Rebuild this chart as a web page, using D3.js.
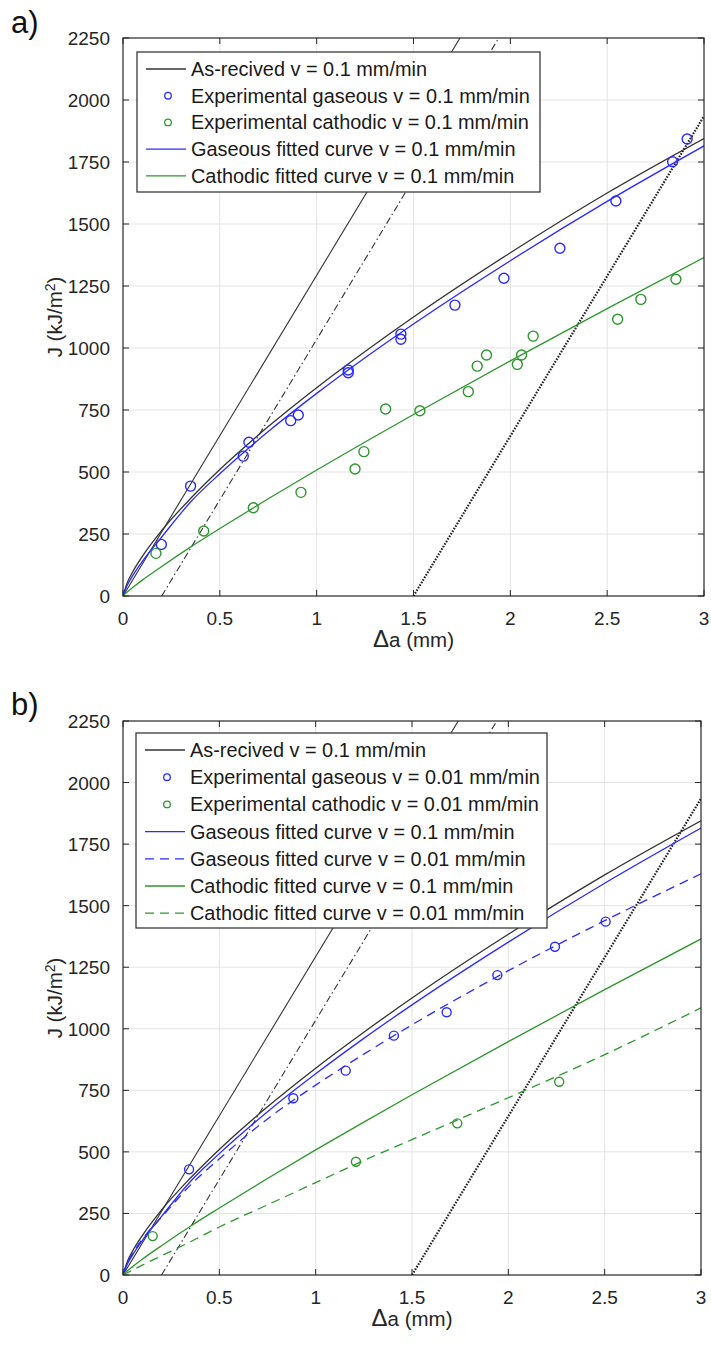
<!DOCTYPE html>
<html lang="en">
  <head>
    <meta charset='utf-8'>
    <script src='https://d3js.org/d3.v7.min.js'></script>
    <title>J-R curves</title>
    <style>
      body { margin: 0px; background: #fff; }
      text { font-family: 'Liberation Sans', Arial, sans-serif; fill: #262626; }
      .tick-label { font-size: 19px; }
      .legend-text { font-size: 19.9px; fill: #1a1a1a; }
      .axis-label { font-size: 20.5px; }
      .panel-label { font-size: 31px; fill: #111; }
    </style>
  </head>
  <body>
    <div id='chart'></div>
    <script>

      // delta a grid for the fitted curves (mm)
      const fitDa = [0, 0.02, 0.05, 0.1, 0.2, 0.35, 0.5, 0.75, 1, 1.25, 1.5, 2, 2.5, 3];
      // J (kJ/m2) at fitDa
      const asReceivedJ = [0, 50, 97, 160, 264, 394, 510, 683, 840, 986, 1125, 1384, 1625, 1845];
      const gasFit01J   = [0, 40, 82, 140, 238, 380, 493, 663, 817, 961, 1097, 1352, 1591, 1815];
      const cathFit01J  = [0, 15, 34, 64, 119, 198, 272, 392, 508, 621, 732, 948, 1159, 1365];
      const gasFit001J  = [0, 45, 88, 145, 235, 365, 472, 634, 771, 897, 1016, 1236, 1439, 1629];
      const cathFit001J = [0, 8, 20, 40, 78, 135, 195, 285, 375, 465, 550, 720, 895, 1085];

      // blunting line and its 0.2 / 1.5 mm offsets, end points
      const bluntDa = [0, 1.74];
      const bluntJ = [0, 2250];
      const offset02Da = [0.2, 1.94];
      const offset02J = [0, 2250];
      const offset15Da = [1.5, 3];
      const offset15J = [0, 1935];

      // experimental points, v = 0.1 mm/min
      const gasA_da = [0.198, 0.349, 0.621, 0.650, 0.866, 0.905, 1.163, 1.163, 1.435, 1.435, 1.714, 1.967, 2.256, 2.545, 2.838, 2.913];
      const gasA_j  = [208, 443, 564, 620, 707, 730, 911, 900, 1056, 1035, 1173, 1281, 1402, 1593, 1751, 1843];
      const cathA_da = [0.170, 0.417, 0.673, 0.919, 1.198, 1.244, 1.356, 1.533, 1.783, 1.829, 1.877, 2.036, 2.058, 2.118, 2.554, 2.674, 2.855];
      const cathA_j  = [172, 262, 356, 418, 512, 582, 754, 747, 824, 927, 972, 934, 972, 1048, 1116, 1196, 1277];

      // experimental points, v = 0.01 mm/min
      const gasB_da = [0.343, 0.884, 1.156, 1.406, 1.680, 1.943, 2.242, 2.505];
      const gasB_j  = [429, 718, 830, 972, 1067, 1218, 1333, 1435];
      const cathB_da = [0.154, 1.209, 1.735, 2.264];
      const cathB_j  = [158, 460, 616, 785];

      const xTicks = [0, 0.5, 1, 1.5, 2, 2.5, 3];
      const yTicks = [0, 250, 500, 750, 1000, 1250, 1500, 1750, 2000, 2250];

      const legendA = [
        { label: 'As-recived v = 0.1 mm/min', kind: 'line', color: '#333', dash: null },
        { label: 'Experimental gaseous v = 0.1 mm/min', kind: 'dot', color: '#2b2bff' },
        { label: 'Experimental cathodic v = 0.1 mm/min', kind: 'dot', color: '#2e962e' },
        { label: 'Gaseous fitted curve v = 0.1 mm/min', kind: 'line', color: '#2b2bff', dash: null },
        { label: 'Cathodic fitted curve v = 0.1 mm/min', kind: 'line', color: '#2e962e', dash: null }
      ];
      const legendB = [
        { label: 'As-recived v = 0.1 mm/min', kind: 'line', color: '#333', dash: null },
        { label: 'Experimental gaseous v = 0.01 mm/min', kind: 'dot', color: '#2b2bff' },
        { label: 'Experimental cathodic v = 0.01 mm/min', kind: 'dot', color: '#2e962e' },
        { label: 'Gaseous fitted curve v = 0.1 mm/min', kind: 'line', color: '#2b2bff', dash: null },
        { label: 'Gaseous fitted curve v = 0.01 mm/min', kind: 'line', color: '#2b2bff', dash: '9,6' },
        { label: 'Cathodic fitted curve v = 0.1 mm/min', kind: 'line', color: '#2e962e', dash: null },
        { label: 'Cathodic fitted curve v = 0.01 mm/min', kind: 'line', color: '#2e962e', dash: '9,6' }
      ];

      const zip = (xs, ys) => xs.map((x, i) => [x, ys[i]]);

      const svg = d3.select('#chart').append('svg')
        .attr('width', 711)
        .attr('height', 1347);

      function drawPanel(cfg) {
        const x = d3.scaleLinear().domain([0, 3]).range([cfg.left, cfg.right]);
        const y = d3.scaleLinear().domain([0, 2250]).range([cfg.bottom, cfg.top]);
        const g = svg.append('g');

        // grid
        g.append('g').selectAll('line').data(xTicks.slice(1, -1)).enter().append('line')
          .attr('x1', d => x(d)).attr('x2', d => x(d))
          .attr('y1', cfg.top).attr('y2', cfg.bottom)
          .attr('stroke', '#e3e3e3').attr('stroke-width', 1);
        g.append('g').selectAll('line').data(yTicks.slice(1, -1)).enter().append('line')
          .attr('y1', d => y(d)).attr('y2', d => y(d))
          .attr('x1', cfg.left).attr('x2', cfg.right)
          .attr('stroke', '#e3e3e3').attr('stroke-width', 1);

        const clipId = 'clip-' + cfg.name;
        g.append('clipPath').attr('id', clipId).append('rect')
          .attr('x', cfg.left).attr('y', cfg.top)
          .attr('width', cfg.right - cfg.left).attr('height', cfg.bottom - cfg.top);
        const plot = g.append('g').attr('clip-path', `url(#${clipId})`);

        const curve = d3.line().x(d => x(d[0])).y(d => y(d[1])).curve(d3.curveMonotoneX);
        const straight = d3.line().x(d => x(d[0])).y(d => y(d[1]));

        // blunting lines
        plot.append('path').attr('d', straight(zip(bluntDa, bluntJ)))
          .attr('fill', 'none').attr('stroke', '#333').attr('stroke-width', 1.1);
        plot.append('path').attr('d', straight(zip(offset02Da, offset02J)))
          .attr('fill', 'none').attr('stroke', '#333').attr('stroke-width', 1.1)
          .attr('stroke-dasharray', '7,3,1.5,3');
        plot.append('path').attr('d', straight(zip(offset15Da, offset15J)))
          .attr('fill', 'none').attr('stroke', '#222').attr('stroke-width', 2.2)
          .attr('stroke-dasharray', '1.6,1.4');

        cfg.curves.forEach(c => {
          plot.append('path').attr('d', curve(zip(fitDa, c.j)))
            .attr('fill', 'none').attr('stroke', c.color).attr('stroke-width', 1.3)
            .attr('stroke-dasharray', c.dash);
        });

        cfg.points.forEach(p => {
          plot.append('g').selectAll('circle').data(zip(p.da, p.j)).enter().append('circle')
            .attr('cx', d => x(d[0])).attr('cy', d => y(d[1]))
            .attr('r', cfg.r).attr('fill', 'none')
            .attr('stroke', p.color).attr('stroke-width', 1.4);
        });

        // box and inward ticks
        g.append('rect').attr('x', cfg.left).attr('y', cfg.top)
          .attr('width', cfg.right - cfg.left).attr('height', cfg.bottom - cfg.top)
          .attr('fill', 'none').attr('stroke', '#262626').attr('stroke-width', 1.2);
        const tl = 6;
        xTicks.forEach(t => {
          g.append('line').attr('x1', x(t)).attr('x2', x(t)).attr('y1', cfg.bottom).attr('y2', cfg.bottom - tl).attr('stroke', '#262626');
          g.append('line').attr('x1', x(t)).attr('x2', x(t)).attr('y1', cfg.top).attr('y2', cfg.top + tl).attr('stroke', '#262626');
          g.append('text').attr('class', 'tick-label')
            .attr('x', x(t)).attr('y', cfg.bottom + 29)
            .attr('text-anchor', 'middle').text(t);
        });
        yTicks.forEach(t => {
          g.append('line').attr('y1', y(t)).attr('y2', y(t)).attr('x1', cfg.left).attr('x2', cfg.left + tl).attr('stroke', '#262626');
          g.append('line').attr('y1', y(t)).attr('y2', y(t)).attr('x1', cfg.right).attr('x2', cfg.right - tl).attr('stroke', '#262626');
          g.append('text').attr('class', 'tick-label')
            .attr('x', cfg.left - 13).attr('y', y(t) + 7)
            .attr('text-anchor', 'end').text(t);
        });

        // axis labels
        const xl = g.append('text').attr('class', 'axis-label')
          .attr('x', (cfg.left + cfg.right) / 2).attr('y', cfg.bottom + 51)
          .attr('text-anchor', 'middle');
        xl.append('tspan').style('font-size', '24px').text('\u0394');
        xl.append('tspan').text('a (mm)');
        const yl = g.append('text').attr('class', 'axis-label')
          .attr('transform', `translate(${cfg.left - 61},${(cfg.top + cfg.bottom) / 2}) rotate(-90)`)
          .attr('text-anchor', 'middle');
        yl.append('tspan').text('J (kJ/m');
        yl.append('tspan').attr('dy', -7).style('font-size', '14px').text('2');
        yl.append('tspan').attr('dy', 7).text(')');

        // panel letter
        g.append('text').attr('class', 'panel-label')
          .attr('x', 11).attr('y', cfg.letterY).text(cfg.letter);

        // legend
        const lg = g.append('g');
        lg.append('rect').attr('x', cfg.legend.x).attr('y', cfg.legend.y)
          .attr('width', cfg.legend.w).attr('height', cfg.legend.h)
          .attr('fill', '#fff').attr('stroke', '#3a3a3a').attr('stroke-width', 1.3);
        cfg.legend.items.forEach((it, i) => {
          const cy = cfg.legend.y + 17 + i * cfg.legend.step;
          if (it.kind === 'line') {
            lg.append('line').attr('x1', cfg.legend.x + 9).attr('x2', cfg.legend.x + 49)
              .attr('y1', cy).attr('y2', cy)
              .attr('stroke', it.color).attr('stroke-width', 1.3)
              .attr('stroke-dasharray', it.dash);
          } else {
            lg.append('circle').attr('cx', cfg.legend.x + 31).attr('cy', cy).attr('r', 3.3)
              .attr('fill', 'none').attr('stroke', it.color).attr('stroke-width', 1.3);
          }
          lg.append('text').attr('class', 'legend-text')
            .attr('x', cfg.legend.x + 54).attr('y', cy + 7).text(it.label);
        });
      }

      drawPanel({
        name: 'a', letter: 'a)', letterY: 33,
        left: 123, right: 704, top: 38, bottom: 596, r: 5,
        curves: [
          { j: asReceivedJ, color: '#333', dash: null },
          { j: gasFit01J, color: '#2b2bff', dash: null },
          { j: cathFit01J, color: '#2e962e', dash: null }
        ],
        points: [
          { da: gasA_da, j: gasA_j, color: '#2b2bff' },
          { da: cathA_da, j: cathA_j, color: '#2e962e' }
        ],
        legend: { x: 137, y: 52, w: 403, h: 140, step: 26.7, items: legendA }
      });

      drawPanel({
        name: 'b', letter: 'b)', letterY: 715,
        left: 123, right: 701, top: 721, bottom: 1275, r: 4.5,
        curves: [
          { j: asReceivedJ, color: '#333', dash: null },
          { j: gasFit01J, color: '#2b2bff', dash: null },
          { j: gasFit001J, color: '#2b2bff', dash: '9,6' },
          { j: cathFit01J, color: '#2e962e', dash: null },
          { j: cathFit001J, color: '#2e962e', dash: '9,6' }
        ],
        points: [
          { da: gasB_da, j: gasB_j, color: '#2b2bff' },
          { da: cathB_da, j: cathB_j, color: '#2e962e' }
        ],
        legend: { x: 136, y: 733, w: 411, h: 195, step: 27.2, items: legendB }
      });

    </script>
  </body>
</html>
